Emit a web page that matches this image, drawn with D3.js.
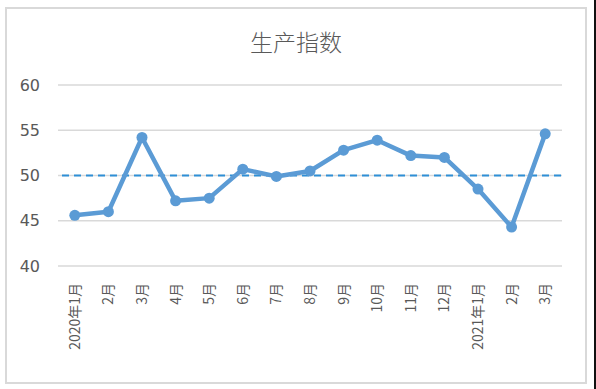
<!DOCTYPE html>
<meta charset="utf-8">
<style>
  body { margin: 0; background: #fff; }
  svg text { font-family: "Noto Sans CJK SC", "DejaVu Sans", sans-serif; }
</style>
<script src="https://d3js.org/d3.v7.min.js"></script>
<div id="chart"></div>
<script>
  // data
  var months = ["2020年1月", "2月", "3月", "4月", "5月", "6月", "7月", "8月",
                "9月", "10月", "11月", "12月", "2021年1月", "2月", "3月"];
  var values = [45.6, 46.0, 54.2, 47.2, 47.5, 50.7, 49.9, 50.5,
                52.8, 53.9, 52.2, 52.0, 48.5, 44.3, 54.6];
  var yTicks = [40, 45, 50, 55, 60];
  var threshold = 50;

  var W = 596, H = 389;
  var margin = {top: 85, right: 34, bottom: 123, left: 58},
      width = W - margin.left - margin.right,
      height = H - margin.top - margin.bottom;

  var svg = d3.select("#chart").append("svg")
      .attr("width", W).attr("height", H);

  // chart frame
  svg.append("rect")
      .attr("x", 6).attr("y", 8).attr("width", 580).attr("height", 375)
      .attr("fill", "#fff").attr("stroke", "#d9d9d9").attr("stroke-width", 2);
  svg.append("rect")
      .attr("x", 594).attr("y", 0).attr("width", 2).attr("height", H)
      .attr("fill", "#111");

  var g = svg.append("g")
      .attr("transform", "translate(" + margin.left + "," + margin.top + ")");

  var x = d3.scaleBand().domain(d3.range(months.length)).range([0, width]);
  var y = d3.scaleLinear().domain([40, 60]).range([height, 0]);

  // gridlines
  g.selectAll(".grid").data(yTicks).enter().append("line")
      .attr("x1", 0).attr("x2", width)
      .attr("y1", function(d) { return y(d); })
      .attr("y2", function(d) { return y(d); })
      .attr("stroke", "#d9d9d9").attr("stroke-width", 1.5);

  // y axis
  var yAxis = g.append("g")
      .call(d3.axisLeft(y).tickValues(yTicks).tickSize(0).tickPadding(18));
  yAxis.select(".domain").remove();
  yAxis.selectAll("text")
      .style("font-size", "16px").attr("fill", "#595959")
      .style("font-family", "'DejaVu Sans', sans-serif");

  // x axis labels
  var xAxis = g.append("g")
      .attr("transform", "translate(0," + height + ")")
      .call(d3.axisBottom(x).tickSize(0).tickFormat(function(i) { return months[i]; }));
  xAxis.select(".domain").remove();
  xAxis.selectAll("text")
      .attr("transform", "rotate(-90)")
      .attr("x", -17).attr("y", 0).attr("dy", "0.35em")
      .attr("text-anchor", "end")
      .style("font-size", "14px").attr("fill", "#595959");

  // 50 reference line
  g.append("line")
      .attr("x1", 4).attr("x2", width + 3)
      .attr("y1", y(threshold)).attr("y2", y(threshold))
      .attr("stroke", "#2e8fd6").attr("stroke-width", 2)
      .attr("stroke-dasharray", "7,5");

  var cx = function(d, i) { return x(i) + x.bandwidth() / 2; };

  g.append("path")
      .datum(values)
      .attr("fill", "none")
      .attr("stroke", "#5b9bd5")
      .attr("stroke-width", 4.5)
      .attr("stroke-linejoin", "round")
      .attr("d", d3.line().x(cx).y(function(d) { return y(d); }));

  g.selectAll(".dot").data(values).enter().append("circle")
      .attr("cx", cx)
      .attr("cy", function(d) { return y(d); })
      .attr("r", 5.5)
      .attr("fill", "#5b9bd5");

  // title
  svg.append("text")
      .attr("x", 296).attr("y", 51)
      .attr("text-anchor", "middle")
      .style("font-size", "23px")
      .style("font-weight", 300)
      .attr("fill", "#595959")
      .text("生产指数");
</script>
